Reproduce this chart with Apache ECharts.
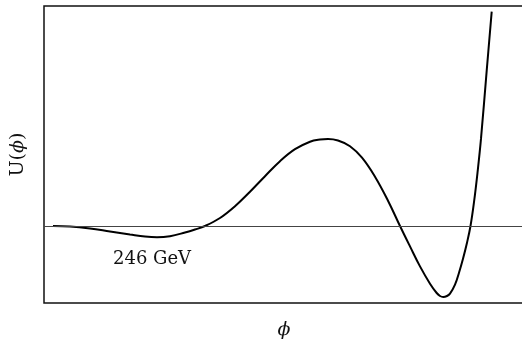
<!DOCTYPE html>
<html lang="en">
<head>
<meta charset="UTF-8">
<title>U(phi)</title>
<script src="https://cdn.jsdelivr.net/npm/echarts@6/dist/echarts.min.js"></script>
<style>
  html, body { margin: 0; padding: 0; background: #fff; }
  #container { width: 522px; height: 340px; }
</style>
</head>
<body>
<div id="container"></div>
<script>
// phi values (arbitrary units) and the potential U(phi)
const phi = [9, 26, 46, 66, 86, 101, 113, 126, 141, 151, 161, 176, 191, 206, 221, 236, 251, 266,
  276, 284, 294, 306, 318, 331, 344, 356, 366, 376, 386, 392.7, 396, 399.3, 403, 406, 411, 415,
  419, 423, 426.5, 430, 433.5, 437, 442.7, 447.7];
const potential = [0, -0.5, -2.5, -5.5, -8.5, -10.6, -11.3, -10.2, -6.5, -3.5, 0, 8, 19.8, 34.3, 49.8, 64.8, 76.8, 84.3,
  86.5, 87, 85.5, 79.8, 68.3, 49.3, 25.3, 0, -20.4, -40.4, -57.7, -67, -70, -71, -70, -67.7, -58.7, -46.7,
  -32.7, -16.7, 0, 23.8, 53.3, 87.3, 155.3, 214.3];

const points = phi.map((x, i) => [x, potential[i]]);

const serif = 'DejaVu Serif';
const chart = echarts.init(document.getElementById('container'), null, { renderer: 'canvas' });

chart.setOption({
  animation: false,
  backgroundColor: '#fff',
  grid: {
    left: 44, right: -2, top: 6, bottom: 37,
    outerBoundsMode: 'none', containLabel: false,
    show: true, borderColor: '#111', borderWidth: 1.5, backgroundColor: 'transparent'
  },
  xAxis: {
    type: 'value', min: 0, max: 480,
    name: 'ϕ', nameLocation: 'middle', nameGap: 18,
    nameTextStyle: { fontFamily: serif, fontStyle: 'italic', fontSize: 19, color: '#111' },
    axisLine: { show: false }, axisTick: { show: false },
    axisLabel: { show: false }, splitLine: { show: false }
  },
  yAxis: {
    type: 'value', min: -77, max: 220,
    name: '{u|U(}{p|ϕ}{u|)}', nameLocation: 'middle', nameGap: 16, nameRotate: 90,
    nameTextStyle: {
      fontFamily: serif, fontSize: 19, color: '#111',
      rich: {
        u: { fontFamily: serif, fontSize: 19, color: '#111' },
        p: { fontFamily: serif, fontSize: 19, fontStyle: 'italic', color: '#111' }
      }
    },
    axisLine: { show: false }, axisTick: { show: false },
    axisLabel: { show: false }, splitLine: { show: false }
  },
  graphic: [{
    type: 'text', left: 113, top: 250,
    style: { text: '246 GeV', font: '18px "DejaVu Serif"', fill: '#111' }
  }],
  series: [{
    type: 'line',
    data: points,
    smooth: 0.4,
    symbol: 'none',
    lineStyle: { color: '#000', width: 2 },
    markLine: {
      silent: true, symbol: 'none', label: { show: false },
      lineStyle: { color: '#444', width: 1.2, type: 'solid' },
      data: [{ yAxis: 0 }]
    }
  }]
});
</script>
</body>
</html>
